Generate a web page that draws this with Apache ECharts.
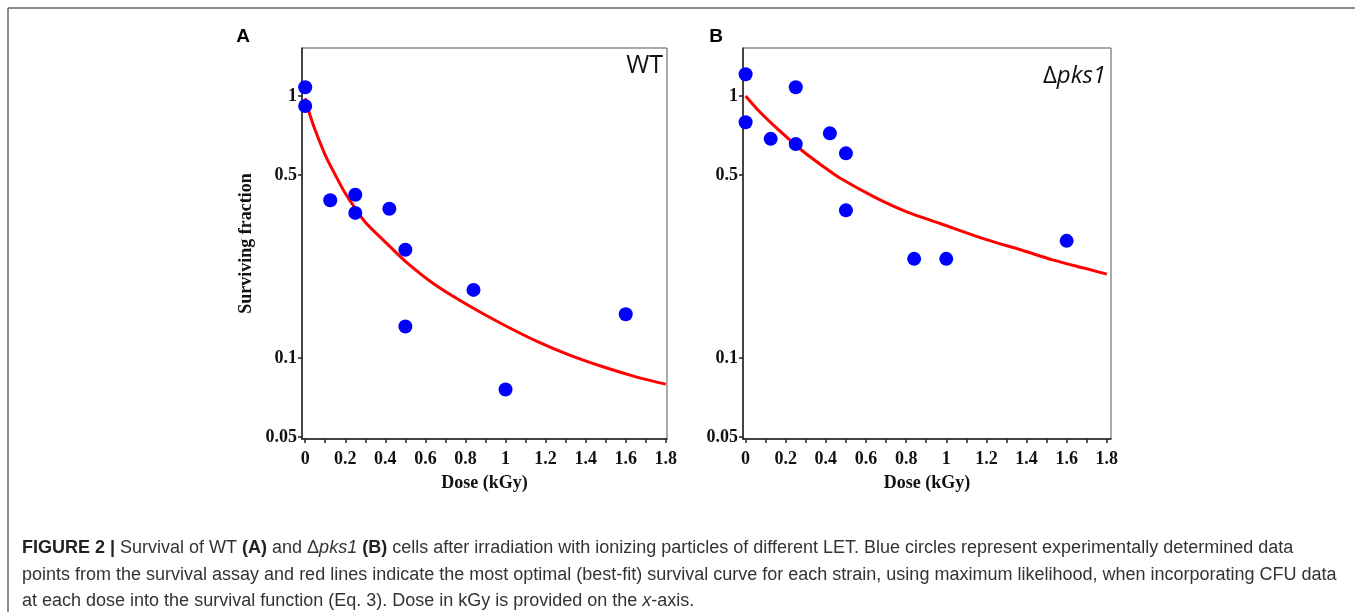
<!DOCTYPE html>
<html>
<head>
<meta charset="utf-8">
<script src="https://cdn.jsdelivr.net/npm/echarts@6/dist/echarts.min.js"></script>
<style>
  html, body { margin: 0; padding: 0; background: #fff; }
  #chart { width: 1355px; height: 612px; }
</style>
</head>
<body>
<div id="chart"></div>
<script>
// tick positions
const doseLabels = [0, 0.2, 0.4, 0.6, 0.8, 1, 1.2, 1.4, 1.6, 1.8]
const doseTicks = [0, 0.1, 0.2, 0.3, 0.4, 0.5, 0.6, 0.7, 0.8, 0.9, 1, 1.1, 1.2, 1.3, 1.4, 1.5, 1.6, 1.7, 1.8]
const fracTicks = [0.05, 0.1, 0.5, 1]

// WT (A) measured points
const wtDose = [0, 0, 0.125, 0.25, 0.25, 0.42, 0.5, 0.5, 0.84, 1.0, 1.6]
const wtSurv = [1.08, 0.916, 0.40, 0.42, 0.358, 0.371, 0.259, 0.132, 0.182, 0.0758, 0.147]
// WT best-fit curve
const wtFitDose = [0, 0.025, 0.05, 0.1, 0.15, 0.2, 0.25, 0.3, 0.4, 0.5, 0.65, 0.82, 0.99, 1.16, 1.32, 1.49, 1.66, 1.8]
const wtFitSurv = [0.98, 0.84, 0.74, 0.595, 0.50, 0.425, 0.372, 0.33, 0.277, 0.234, 0.19, 0.158, 0.134, 0.1155, 0.1026, 0.0924, 0.0844, 0.0795]

// delta pks1 (B) measured points
const pksDose = [0, 0, 0.125, 0.25, 0.25, 0.42, 0.5, 0.5, 0.84, 1.0, 1.6]
const pksSurv = [1.21, 0.794, 0.686, 1.08, 0.655, 0.72, 0.604, 0.366, 0.239, 0.239, 0.28]
// delta pks1 best-fit curve
const pksFitDose = [0, 0.07, 0.14, 0.22, 0.3, 0.39, 0.47, 0.64, 0.8, 0.97, 1.2, 1.37, 1.53, 1.7, 1.8]
const pksFitSurv = [1.0, 0.87, 0.772, 0.68, 0.603, 0.536, 0.486, 0.412, 0.362, 0.326, 0.283, 0.259, 0.237, 0.219, 0.209]

const zip = (xs, ys) => xs.map((x, i) => [x, ys[i]])

const serif = 'Liberation Serif'

const xAxisBase = (gridIndex, min, max) => ({
  type: 'value',
  gridIndex,
  min,
  max,
  name: 'Dose (kGy)',
  nameLocation: 'middle',
  nameGap: 35,
  nameTextStyle: { fontFamily: serif, fontWeight: 'bold', fontSize: 18, color: '#111' },
  axisLine: { show: true, onZero: false, lineStyle: { color: '#222', width: 1.5 } },
  axisTick: { show: true, length: 4, customValues: doseTicks, lineStyle: { color: '#222', width: 1.5 } },
  axisLabel: {
    customValues: doseLabels,
    margin: 11,
    fontFamily: serif,
    fontWeight: 'bold',
    fontSize: 18,
    color: '#111',
    formatter: v => String(+(+v).toFixed(1))
  },
  splitLine: { show: false }
})

const yAxisBase = (gridIndex, name) => ({
  type: 'log',
  logBase: 10,
  gridIndex,
  min: 0.0491,
  max: 1.524,
  name,
  nameLocation: 'middle',
  nameGap: 47,
  nameTextStyle: { fontFamily: serif, fontWeight: 'bold', fontSize: 18, color: '#111' },
  axisLine: { show: true, onZero: false, lineStyle: { color: '#222', width: 1.5 } },
  axisTick: { show: true, length: 4, customValues: fracTicks, lineStyle: { color: '#222', width: 1.5 } },
  axisLabel: {
    customValues: fracTicks,
    margin: 5,
    fontFamily: serif,
    fontWeight: 'bold',
    fontSize: 18,
    color: '#111',
    formatter: v => String(+(+v).toPrecision(3))
  },
  minorTick: { show: false },
  splitLine: { show: false }
})

const fitLine = (idx, data) => ({
  type: 'line', xAxisIndex: idx, yAxisIndex: idx, data,
  showSymbol: false, smooth: 0.3,
  lineStyle: { color: '#ff0000', width: 3 }, z: 2
})

const dots = (idx, data) => ({
  type: 'scatter', xAxisIndex: idx, yAxisIndex: idx, data,
  symbolSize: 14, itemStyle: { color: '#0000ff', opacity: 1 }, z: 3
})

const capFont = '18px "Liberation Sans"'

const chart = echarts.init(document.getElementById('chart'))
chart.setOption({
  animation: false,
  backgroundColor: '#fff',
  grid: [
    { left: 302, top: 48, width: 365, height: 391, show: true, borderColor: '#555', borderWidth: 1 },
    { left: 743, top: 48, width: 368, height: 391, show: true, borderColor: '#555', borderWidth: 1 }
  ],
  xAxis: [xAxisBase(0, -0.016, 1.806), xAxisBase(1, -0.013, 1.821)],
  yAxis: [yAxisBase(0, 'Surviving fraction'), yAxisBase(1, '')],
  series: [
    fitLine(0, zip(wtFitDose, wtFitSurv)),
    dots(0, zip(wtDose, wtSurv)),
    fitLine(1, zip(pksFitDose, pksFitSurv)),
    dots(1, zip(pksDose, pksSurv))
  ],
  graphic: [
    // figure frame
    { type: 'line', shape: { x1: 8, y1: 8, x2: 1355, y2: 8 }, style: { stroke: '#666', lineWidth: 1.5 } },
    { type: 'line', shape: { x1: 8, y1: 8, x2: 8, y2: 612 }, style: { stroke: '#666', lineWidth: 1.5 } },
    // panel letters
    { type: 'text', x: 243, y: 37, style: { text: 'A', font: 'bold 19px "Liberation Sans"', fill: '#000', align: 'center', verticalAlign: 'middle' } },
    { type: 'text', x: 716, y: 37, style: { text: 'B', font: 'bold 19px "Liberation Sans"', fill: '#000', align: 'center', verticalAlign: 'middle' } },
    // strain names
    { type: 'text', x: 663, y: 66, style: { text: 'WT', font: '25px "Open Sans"', fill: '#111', align: 'right', verticalAlign: 'middle' } },
    {
      type: 'text', x: 1106, y: 76,
      style: {
        text: '{n|Δ}{i|pks1}', align: 'right', verticalAlign: 'middle',
        rich: {
          n: { font: '24px "Open Sans"', fill: '#111' },
          i: { font: 'italic 24px "Open Sans"', fill: '#111' }
        }
      }
    },
    // caption
    {
      type: 'text', x: 22, y: 548,
      style: {
        text: '{b|FIGURE 2 |}{r| Survival of WT }{b|(A)}{r| and Δ}{i|pks1}{r| }{b|(B)}{r| cells after irradiation with ionizing particles of different LET. Blue circles represent experimentally determined data}',
        verticalAlign: 'middle',
        rich: {
          b: { font: 'bold ' + capFont, fill: '#222' },
          r: { font: capFont, fill: '#333' },
          i: { font: 'italic ' + capFont, fill: '#333' }
        }
      }
    },
    {
      type: 'text', x: 22, y: 575,
      style: {
        text: 'points from the survival assay and red lines indicate the most optimal (best-fit) survival curve for each strain, using maximum likelihood, when incorporating CFU data',
        verticalAlign: 'middle', font: capFont, fill: '#333'
      }
    },
    {
      type: 'text', x: 22, y: 601,
      style: {
        text: '{r|at each dose into the survival function (Eq. 3). Dose in kGy is provided on the }{i|x}{r|-axis.}',
        verticalAlign: 'middle',
        rich: {
          r: { font: capFont, fill: '#333' },
          i: { font: 'italic ' + capFont, fill: '#333' }
        }
      }
    }
  ]
})
</script>
</body>
</html>
